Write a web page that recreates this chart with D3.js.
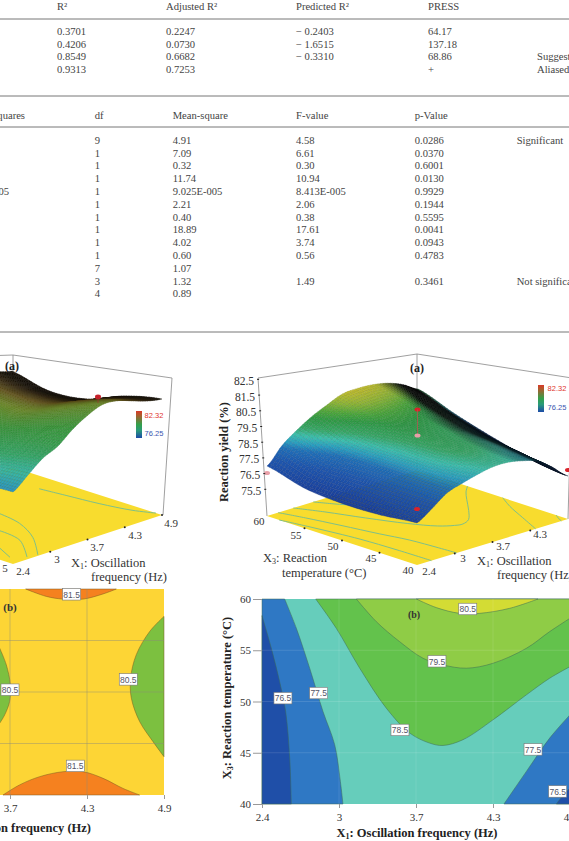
<!DOCTYPE html>
<html><head><meta charset="utf-8">
<script src="https://cdn.jsdelivr.net/npm/d3@7"></script>
<style>
html,body{margin:0;background:#fff}
svg{display:block}
text{font-family:"Liberation Serif",serif}
.domain{display:none}
</style></head><body>
<svg id="page" width="569" height="841"></svg>
<script>
// ---------- Table of model fit statistics ----------
const fitHeaders = ["R²","Adjusted R²","Predicted R²","PRESS"];
const fitR2 = ["0.3701","0.4206","0.8549","0.9313"];
const fitAdj = ["0.2247","0.0730","0.6682","0.7253"];
const fitPred = ["− 0.2403","− 1.6515","− 0.3310",""];
const fitPress = ["64.17","137.18","68.86","+"];
const fitNote = ["","","Suggested","Aliased"];

// ---------- ANOVA table ----------
const anovaHeaders = ["Sum of squares","df","Mean-square","F-value","p-Value"];
const anovaSS = ["","","","","9.025E-005","","","","","","","",""];
const anovaDf = ["9","1","1","1","1","1","1","1","1","1","7","3","4"];
const anovaMS = ["4.91","7.09","0.32","11.74","9.025E-005","2.21","0.40","18.89","4.02","0.60","1.07","1.32","0.89"];
const anovaF = ["4.58","6.61","0.30","10.94","8.413E-005","2.06","0.38","17.61","3.74","0.56","","1.49",""];
const anovaP = ["0.0286","0.0370","0.6001","0.0130","0.9929","0.1944","0.5595","0.0041","0.0943","0.4783","","0.3461",""];
const anovaNote = ["Significant","","","","","","","","","","","Not significant",""];

// ---------- Shared axis values ----------
const freqTicks = [2.4,3.025,3.65,4.275,4.9];
const freqLabels = ["2.4","3","3.7","4.3","4.9"];
const tempTicks = [40,45,50,55,60];
const yieldTicks = [75.5,76.5,77.5,78.5,79.5,80.5,81.5,82.5];

// ---------- Response surface, frequency vs temperature (% yield) ----------
// rows: 60, 55, 50, 45, 40 °C; columns: 2.4 to 4.9 Hz in 0.25 Hz steps
const tempSurface = [
 [76.98,78.00,78.70,79.28,79.72,80.11,80.17,80.11,79.91,79.53,78.96],
 [76.35,77.30,78.00,78.58,79.02,79.34,79.41,79.34,79.15,78.70,78.13],
 [76.16,77.11,77.81,78.32,78.70,79.02,79.02,78.90,78.58,78.07,77.43],
 [76.22,77.11,77.81,78.26,78.58,78.83,78.83,78.64,78.32,77.69,76.86],
 [76.48,77.11,77.81,78.13,78.39,78.58,78.58,78.39,78.07,77.37,76.54]
];
// design points: frequency, temperature, yield
const tempPoints = [[3.65,50,80.68,"#d8232a"],[3.65,50,79.02,"#e8a0a8"],[2.4,40,77.37,"#d8232a"],[2.4,60,76.54,"#e8a0a8"],[4.9,40,76.92,"#d8232a"]];

// ---------- Contours of the same response (frequency, temperature) ----------
const c765Left = [[2.4,58.38],[2.476,55.19],[2.543,51.95],[2.592,49.03],[2.625,44.48],[2.638,40]];
const c775Left = [[2.584,60],[2.679,57.14],[2.787,53.25],[2.895,49.03],[2.99,45.78],[3.036,42.21],[3.057,40]];
const c785 = [[2.836,60],[3.003,57.14],[3.193,53.25],[3.409,49.35],[3.599,46.92],[3.761,45.94],[3.869,45.71],[4.031,46.27],[4.275,48.21],[4.546,50.65],[4.735,52.27],[4.9,53.4]];
const c795 = [[3.166,60],[3.328,57.79],[3.517,55.84],[3.707,54.22],[3.869,53.57],[4.059,53.25],[4.275,53.73],[4.546,55.19],[4.735,56.82],[4.9,58.12]];
const c805 = [[3.653,60],[3.815,59.16],[4.004,58.6],[4.167,58.6],[4.41,59.09],[4.64,60]];
const c775Right = [[4.364,40],[4.546,43.18],[4.735,46.43],[4.9,48.7]];
const c765Right = [[4.789,40],[4.843,40.84],[4.9,41.56]];
const tempLabels = [["76.5",2.57,50.3],["77.5",2.86,50.8],["78.5",3.52,47.2],["79.5",3.82,53.9],["80.5",4.07,59.0],["77.5",4.6,45.3],["76.5",4.8,41.2]];

// ---------- Response surface, frequency vs second factor (left-hand plot) ----------
// rows: front-to-back position 0, .25, .5, .75, 1; columns: 2.4 to 4.9 Hz
const factorSurface = [
 [77.54,78.46,79.38,79.92,80.85,81.54,82.00,81.92,81.54,81.15,80.92],
 [77.38,78.15,78.92,79.54,80.08,80.62,80.92,80.92,80.69,80.46,80.23],
 [77.23,77.85,78.46,78.92,79.38,79.69,79.85,79.85,79.62,79.31,79.08],
 [77.23,77.85,78.46,79.08,79.54,79.85,79.92,79.85,79.54,79.15,78.77],
 [77.38,77.54,78.15,78.77,79.31,79.77,80.15,80.31,80.00,79.69,79.38]
];
const factorColumnYield = [77.0,77.5,78.0,78.5,78.9,79.3,79.7,80.2,80.7,81.2,81.6];
const factorPoint = [4.9,0.44,79.46];
const floorLinesLeft = [
 [[0.865,0.685],[0.885,0.525],[0.91,0.33],[0.95,0.15],[1,0.04]],
 [[0.477,0.564],[0.442,0.395],[0.342,0.208],[0.175,0.008]],
 [[0.30,0.39],[0.268,0.22],[0.118,0.024]],
 [[0.12,0.207],[0.06,0.08]]
];

// ---------- Contours of the left-hand response (frequency, position 0-1) ----------
const c815Top = [[3.777,1],[3.945,0.964],[4.08,0.951],[4.243,0.951],[4.405,0.976],[4.513,1]];
const c815Bottom = [[3.593,0],[3.728,0.049],[3.891,0.089],[4.08,0.113],[4.243,0.113],[4.405,0.081],[4.567,0.032],[4.702,0]];
const c805Right = [[4.9,0.867],[4.784,0.794],[4.675,0.681],[4.629,0.567],[4.635,0.47],[4.702,0.357],[4.811,0.259],[4.9,0.186]];
const c805Left = [[3.566,0.713],[3.62,0.632],[3.653,0.535],[3.647,0.454],[3.607,0.389],[3.566,0.348]];
const factorLabels = [["81.5",4.15,0.973],["80.5",3.65,0.51],["80.5",4.61,0.56],["81.5",4.18,0.14]];
const factorGrid = [0.25,0.5,0.75];

// ---------- Colour stops ----------
const surfaceStops = [[76.1,"#1a3d9a"],[77.3,"#1e56ae"],[77.9,"#1f6fb8"],[78.2,"#2a9fc0"],[78.5,"#3cc0ae"],[78.8,"#38a868"],[79.2,"#2f9a45"],[79.45,"#4aa63c"],[79.8,"#8cb536"],[80.2,"#c8c02c"]];
const factorStops = [[77.0,"#2a96c6"],[77.5,"#38b8a8"],[78.0,"#35a868"],[78.9,"#3a9a3e"],[79.7,"#6f8f2a"],[80.4,"#6a5a20"],[81.2,"#2e2210"],[81.6,"#141008"]];

const svg = d3.select("#page");
const ink = "#444";

function txt(g,x,y,s,o={}){
  return g.append("text").attr("x",x).attr("y",y).text(s)
    .attr("fill",o.fill||ink).attr("font-size",o.size||10.6)
    .attr("font-weight",o.weight||null).attr("text-anchor",o.anchor||"start");
}

// ---------- Tables ----------
const tbl = svg.append("g");
function rule(y){ tbl.append("line").attr("x1",0).attr("x2",569).attr("y1",y).attr("y2",y).attr("stroke","#777").attr("stroke-width",1); }
[19,96,127,332].forEach(rule);

const fitX = [57,166,296,428,537];
const fitCols = [fitR2,fitAdj,fitPred,fitPress,fitNote];
fitHeaders.forEach((h,i)=>txt(tbl,fitX[i],10,h));
const fitRowY = d3.scaleLinear().domain([0,3]).range([34.8,73.2]);
fitCols.forEach((vals,c)=>vals.forEach((v,i)=>{ if(v) txt(tbl,fitX[c],fitRowY(i),v); }));

const anovaHeadX = [25,94.7,172.7,296,414.7];
anovaHeaders.forEach((h,i)=>txt(tbl,anovaHeadX[i],119,h,{anchor:i===0?"end":"start"}));
const anovaRowY = d3.scaleLinear().domain([0,12]).range([143.8,297.4]);
anovaSS.forEach((v,i)=>{ if(v) txt(tbl,9,anovaRowY(i),v,{anchor:"end"}); });
[[94.7,anovaDf],[172.7,anovaMS],[296,anovaF],[414.7,anovaP],[516.7,anovaNote]].forEach(([x,vals])=>
  vals.forEach((v,i)=>{ if(v) txt(tbl,x,anovaRowY(i),v); }));

// ---------- Surface helpers ----------
const cr=(a,b,c,d,t)=>0.5*(2*b+(c-a)*t+(2*a-5*b+4*c-d)*t*t+(3*b-a-3*c+d)*t*t*t);
function along(arr,s){
  const n=arr.length-1, p=Math.max(0,Math.min(n,s*n)), i=Math.min(n-1,Math.floor(p)), t=p-i;
  return cr(arr[Math.max(0,i-1)],arr[i],arr[i+1],arr[Math.min(n,i+2)],t);
}
const sheet=(table,u,v)=>along(table.map(r=>along(r,u)),v);
const ramp=stops=>d3.scaleLinear().domain(stops.map(d=>d[0])).range(stops.map(d=>d[1])).interpolate(d3.interpolateRgb).clamp(true);

const uOf=d3.scaleLinear().domain([2.4,4.9]).range([0,1]);
const vOf=d3.scaleLinear().domain([60,40]).range([0,1]);

// Draw a rectangular sheet from back to front as small quads
function drawSheet(g,nu,nv,corner,fill,order){
  const cells=[];
  for(let i=0;i<nu;i++)for(let j=0;j<nv;j++)cells.push([i,j]);
  cells.sort(order);
  g.selectAll("path").data(cells).join("path")
   .attr("d",([i,j])=>{
      const p=[corner(i/nu,j/nv),corner((i+1)/nu,j/nv),corner((i+1)/nu,(j+1)/nv),corner(i/nu,(j+1)/nv)];
      return "M"+p.join("L")+"Z";
   })
   .attr("fill",([i,j])=>fill((i+.5)/nu,(j+.5)/nv))
   .attr("stroke",([i,j])=>d3.color(fill((i+.5)/nu,(j+.5)/nv)).darker(0.6))
   .attr("stroke-width",0.35);
}

// ---------- Right 3-D plot ----------
const rp = svg.append("g");
const rFloorX = (u,v)=>267+151*u+150*v;
const rFloorY = (u,v)=>516-46*u+49*v;
// yield axis: lift above the floor plane
const rLift = d3.scaleLinear().domain([73.8,82.5]).range([0,136.6]);
const rPt = (u,v,z)=>[rFloorX(u,v),rFloorY(u,v)-rLift(z)];

const boxStroke="#888";
rp.append("path").attr("d","M258,378L417,354L572,378M258,378L267,516M417,354V470M572,378L568,519")
  .attr("fill","none").attr("stroke",boxStroke).attr("stroke-width",0.8);

rp.append("path").attr("d","M"+[[0,0],[1,0],[1,1],[0,1]].map(([u,v])=>[rFloorX(u,v),rFloorY(u,v)]).join("L")+"Z")
  .attr("fill","#f8dc2e");
const floorLine=d3.line().curve(d3.curveCatmullRom.alpha(0.5));
[c765Left,c775Left,c785,c795,c805,c775Right,c765Right].forEach(c=>{
  rp.append("path").attr("fill","none").attr("stroke","#7fc088").attr("stroke-width",1)
    .attr("d",floorLine(c.map(([f,t])=>[rFloorX(uOf(f),vOf(t)),rFloorY(uOf(f),vOf(t))])));
});

const rColor=ramp(surfaceStops);
drawSheet(rp.append("g"),60,50,
  (u,v)=>rPt(u,v,sheet(tempSurface,u,v)).map(d=>+d.toFixed(2)),
  (u,v)=>{
    const z=sheet(tempSurface,u,v);
    const h=rLift(sheet(tempSurface,Math.min(1,u+.02),v))-rLift(sheet(tempSurface,Math.max(0,u-.02),v));
    const slope=-h/.04;
    const dark=Math.max(0,Math.min(1,(slope-22)/45))*(0.55+0.45*(1-v*.6));
    return d3.interpolateRgb(rColor(z),"#050505")(dark);
  },
  (a,b)=>(b[0]-b[1])-(a[0]-a[1]));

tempPoints.forEach(([f,t,z,c],i)=>{
  const [x,y]=rPt(uOf(f),vOf(t),z);
  rp.append("ellipse").attr("cx",x).attr("cy",y).attr("rx",3).attr("ry",2).attr("fill",c);
  if(i===0){ const [,y2]=rPt(uOf(f),vOf(t),tempPoints[1][2]);
    rp.append("line").attr("x1",x).attr("x2",x).attr("y1",y).attr("y2",y2).attr("stroke","#c05050").attr("stroke-width",.7);}
});
// yield ticks along the slanted left edge
const rAxisX=d3.scaleLinear().domain([378,516]).range([258,267]);
yieldTicks.forEach(z=>{
  const y=516-rLift(z), x=rAxisX(y);
  rp.append("line").attr("x1",x-1).attr("x2",x+1).attr("y1",y).attr("y2",y).attr("stroke","#222");
  txt(rp,x-4,y+5.5,z.toFixed(1),{size:11.5,fill:"#333",anchor:"end"});
});
txt(rp,0,0,"Reaction yield (%)",{size:12.5,weight:"bold",fill:"#222",anchor:"middle"}).attr("transform","translate(228,452) rotate(-90)");
// floor ticks and labels
const rFreqLab=[[429,575],[463,562],[503,550],[540,538]];
freqLabels.slice(0,4).forEach((s,i)=>txt(rp,rFreqLab[i][0],rFreqLab[i][1],s,{size:11,fill:"#333",anchor:"middle"}));
const rTempLab=[[408,574],[371,562],[333,550],[296,539],[259,525]];
tempTicks.forEach((t,i)=>txt(rp,rTempLab[i][0],rTempLab[i][1],t,{size:11,fill:"#333",anchor:"middle"}));
freqTicks.slice(1,4).forEach(f=>rp.append("circle").attr("cx",rFloorX(uOf(f),1)).attr("cy",rFloorY(uOf(f),1)).attr("r",1).attr("fill","#222"));
tempTicks.slice(1,4).forEach(t=>rp.append("circle").attr("cx",rFloorX(0,vOf(t))).attr("cy",rFloorY(0,vOf(t))).attr("r",1).attr("fill","#222"));
{const t=txt(rp,263,562,"X",{size:12.5,fill:"#333"});t.append("tspan").attr("font-size",8).attr("dy",2).text("3");t.append("tspan").attr("dy",-2).text(": Reaction");
 txt(rp,282,577,"temperature (°C)",{size:12.5,fill:"#333"});}
{const t=txt(rp,477,565,"X",{size:12.5,fill:"#333"});t.append("tspan").attr("font-size",8).attr("dy",2).text("1");t.append("tspan").attr("dy",-2).text(": Oscillation");
 txt(rp,497,579,"frequency (Hz)",{size:12.5,fill:"#333"});}
txt(rp,417,372,"(a)",{size:12,weight:"bold",fill:"#222",anchor:"middle"});

// Colour key shared by both 3-D plots
function colourKey(g,x,y0,y1,lx,ly0,ly1){
  const id="key"+x;
  const def=g.append("linearGradient").attr("id",id).attr("x1",0).attr("x2",0).attr("y1",0).attr("y2",1);
  [["0","#d8392a"],[".12","#b8552a"],[".5","#33a04a"],[".72","#2a9a7a"],["1","#1c4aa8"]].forEach(([o,c])=>def.append("stop").attr("offset",o).attr("stop-color",c));
  g.append("rect").attr("x",x).attr("y",y0).attr("width",6).attr("height",y1-y0).attr("fill",`url(#${id})`);
  g.append("text").attr("x",lx).attr("y",ly0).attr("font-size",7.5).attr("fill","#e0352e").attr("text-anchor","middle").style("font-family","'Liberation Sans',sans-serif").text("82.32");
  g.append("text").attr("x",lx).attr("y",ly1).attr("font-size",7.5).attr("fill","#3a55b0").attr("text-anchor","middle").style("font-family","'Liberation Sans',sans-serif").text("76.25");
}
colourKey(rp,538,385,412,557,391,410);

// ---------- Left 3-D plot ----------
const lp = svg.append("g");
const lFloorX=(u,v)=>13+149*u-150*v;
const lFloorY=(u,v)=>564-49*u-48*v;
const lLift=d3.scaleLinear().domain([72,82]).range([0,130]);
const lPt=(u,v,z)=>[lFloorX(u,v),lFloorY(u,v)-lLift(z)];
lp.append("path").attr("d","M-137,360L13,355L172,378L163,515M13,355V380").attr("fill","none").attr("stroke",boxStroke).attr("stroke-width",.8);
lp.append("path").attr("d","M"+[[0,0],[1,0],[1,1],[0,1]].map(([u,v])=>[lFloorX(u,v),lFloorY(u,v)]).join("L")+"Z").attr("fill","#f8dc2e");
floorLinesLeft.forEach(c=>lp.append("path").attr("fill","none").attr("stroke","#7fc088").attr("stroke-width",1)
  .attr("d",floorLine(c.map(([u,v])=>[lFloorX(u,v),lFloorY(u,v)]))));
const lColor=ramp(factorStops);
drawSheet(lp.append("g"),64,60,
  (u,v)=>lPt(u,v,sheet(factorSurface,u,v)).map(d=>+d.toFixed(2)),
  (u,v)=>lColor(along(factorColumnYield,u)+ (v*0.25)),
  (a,b)=>(b[0]+b[1])-(a[0]+a[1]));
{const [x,y]=lPt(uOf(factorPoint[0]),factorPoint[1],factorPoint[2]);
 lp.append("ellipse").attr("cx",x+2).attr("cy",y).attr("rx",3).attr("ry",2.4).attr("fill","#c8202a");
 lp.append("line").attr("x1",x+2).attr("x2",x+2).attr("y1",y).attr("y2",y+6).attr("stroke","#a03030").attr("stroke-width",.7);}
freqTicks.slice(1).forEach(f=>lp.append("circle").attr("cx",lFloorX(uOf(f),0)).attr("cy",lFloorY(uOf(f),0)).attr("r",1).attr("fill","#222"));
const lFreqLab=[[23,575],[57,563],[97,551],[135,539],[171,527]];
freqLabels.forEach((s,i)=>txt(lp,lFreqLab[i][0],lFreqLab[i][1],s,{size:11,fill:"#333",anchor:"middle"}));
txt(lp,5,572,"5",{size:11,fill:"#333",anchor:"middle"});
{const t=txt(lp,71,567,"X",{size:12.5,fill:"#333"});t.append("tspan").attr("font-size",8).attr("dy",2).text("1");t.append("tspan").attr("dy",-2).text(": Oscillation");
 txt(lp,91,581,"frequency (Hz)",{size:12.5,fill:"#333"});}
txt(lp,12,370,"(a)",{size:12,weight:"bold",fill:"#222",anchor:"middle"});
colourKey(lp,136,411,438,154,418,436);

// ---------- Right contour plot ----------
const cx=d3.scaleLinear().domain([2.4,4.9]).range([262,570]);
const cy=d3.scaleLinear().domain([40,60]).range([804,599]);
const rc=svg.append("g");
rc.append("rect").attr("x",cx(2.4)).attr("y",cy(60)).attr("width",cx(4.9)-cx(2.4)).attr("height",cy(40)-cy(60)).attr("fill","#66cdbb");
const contourPath=d3.line().x(d=>cx(d[0])).y(d=>cy(d[1])).curve(d3.curveCatmullRom.alpha(0.5));
const lineTo=pts=>pts.map(([a,b])=>`L${cx(a)},${cy(b)}`).join("");
const bands=[
  [c785,[[4.9,60]],"#63c24c"],
  [c795,[[4.9,60]],"#8fcc46"],
  [c805,[],"#d3dc34"],
  [c775Left,[[2.4,40],[2.4,60]],"#2f78c4"],
  [c765Left,[[2.4,40]],"#1f4fa8"],
  [c775Right,[[4.9,40]],"#2f78c4"],
  [c765Right,[[4.9,40]],"#1f4fa8"]
];
bands.forEach(([c,close,col])=>{
  rc.append("path").attr("fill",col).attr("stroke","#3d6a55").attr("stroke-width",0.5)
    .attr("d",contourPath(c)+lineTo(close)+"Z");
});
rc.append("g").selectAll("line").data(tempTicks.slice(1,4)).join("line")
  .attr("x1",cx(2.4)).attr("x2",cx(4.9)).attr("y1",d=>cy(d)).attr("y2",d=>cy(d)).attr("stroke","#fff").attr("stroke-opacity",.12);
rc.append("g").selectAll("line").data(freqTicks.slice(1,4)).join("line")
  .attr("y1",cy(40)).attr("y2",cy(60)).attr("x1",d=>cx(d)).attr("x2",d=>cx(d)).attr("stroke","#fff").attr("stroke-opacity",.1);

function contourLabel(g,x,y,s){
  g.append("rect").attr("x",x-9).attr("y",y-6).attr("width",18).attr("height",11.5).attr("fill","#fff").attr("stroke","#777").attr("stroke-width",.6);
  txt(g,x,y+3,s,{size:8.5,fill:"#556",anchor:"middle"}).style("font-family","'Liberation Sans',sans-serif");
}
tempLabels.forEach(([s,f,t])=>contourLabel(rc,cx(f),cy(t),s));
txt(rc,414,618,"(b)",{size:10,weight:"bold",fill:"#333",anchor:"middle"});

const styleAxis=g=>{g.selectAll("line").attr("stroke","#999");g.selectAll("text").attr("fill","#333").style("font-family","'Liberation Serif',serif").attr("font-size",11);};
rc.append("g").attr("transform",`translate(0,${cy(40)})`)
  .call(d3.axisBottom(cx).tickValues(freqTicks).tickFormat((d,i)=>freqLabels[i]).tickSize(4).tickPadding(5)).call(styleAxis);
rc.append("g").attr("transform",`translate(${cx(2.4)},0)`)
  .call(d3.axisLeft(cy).tickValues(tempTicks).tickSize(9).tickPadding(2)).call(styleAxis);
{const t=txt(rc,417,837,"X",{size:12.5,weight:"bold",fill:"#222",anchor:"middle"});t.append("tspan").attr("font-size",8).attr("dy",2).text("1");t.append("tspan").attr("dy",-2).text(": Oscillation frequency (Hz)");
 const r=txt(rc,0,0,"X",{size:12.5,weight:"bold",fill:"#222",anchor:"middle"}).attr("transform","translate(231,698) rotate(-90)");
 r.append("tspan").attr("font-size",8).attr("dy",2).text("3");r.append("tspan").attr("dy",-2).text(": Reaction temperature (°C)");}

// ---------- Left contour plot ----------
const lx=d3.scaleLinear().domain([2.4,4.9]).range([-144,164]);
const ly=d3.scaleLinear().domain([0,1]).range([795,589]);
const lc=svg.append("g");
lc.append("rect").attr("x",lx(2.4)).attr("y",ly(1)).attr("width",lx(4.9)-lx(2.4)).attr("height",ly(0)-ly(1)).attr("fill","#fdd535");
const lContour=d3.line().x(d=>lx(d[0])).y(d=>ly(d[1])).curve(d3.curveCatmullRom.alpha(0.5));
const lTail=pts=>pts.map(([a,b])=>`L${lx(a)},${ly(b)}`).join("");
[[c815Top,[],"#f5811f"],[c815Bottom,[],"#f5811f"],[c805Right,[],"#7cc040"],[c805Left,[[3.3,0.348],[3.3,0.713]],"#7cc040"]].forEach(([c,tail,col])=>{
  lc.append("path").attr("fill",col).attr("stroke","#7a5a20").attr("stroke-width",.5).attr("d",lContour(c)+lTail(tail)+"Z");
});
lc.append("g").selectAll("line").data(factorGrid).join("line")
  .attr("x1",0).attr("x2",lx(4.9)).attr("y1",d=>ly(d)).attr("y2",d=>ly(d)).attr("stroke","#8a8a7a").attr("stroke-opacity",.55).attr("stroke-width",.8);
lc.append("g").selectAll("line").data(freqTicks.slice(2,4)).join("line")
  .attr("y1",ly(0)).attr("y2",ly(1)).attr("x1",d=>lx(d)).attr("x2",d=>lx(d)).attr("stroke","#8a8a7a").attr("stroke-opacity",.55).attr("stroke-width",.8);
factorLabels.forEach(([s,f,t])=>contourLabel(lc,lx(f),ly(t),s));
txt(lc,10,611,"(b)",{size:11,weight:"bold",fill:"#333",anchor:"middle"});
lc.append("g").attr("transform",`translate(0,${ly(0)})`)
  .call(d3.axisBottom(lx).tickValues(freqTicks).tickFormat((d,i)=>freqLabels[i]).tickSize(4).tickPadding(5)).call(styleAxis);
txt(lc,91,832,"X₁: Oscillation frequency (Hz)",{size:12.5,weight:"bold",fill:"#222",anchor:"end"});
</script>
</body></html>
